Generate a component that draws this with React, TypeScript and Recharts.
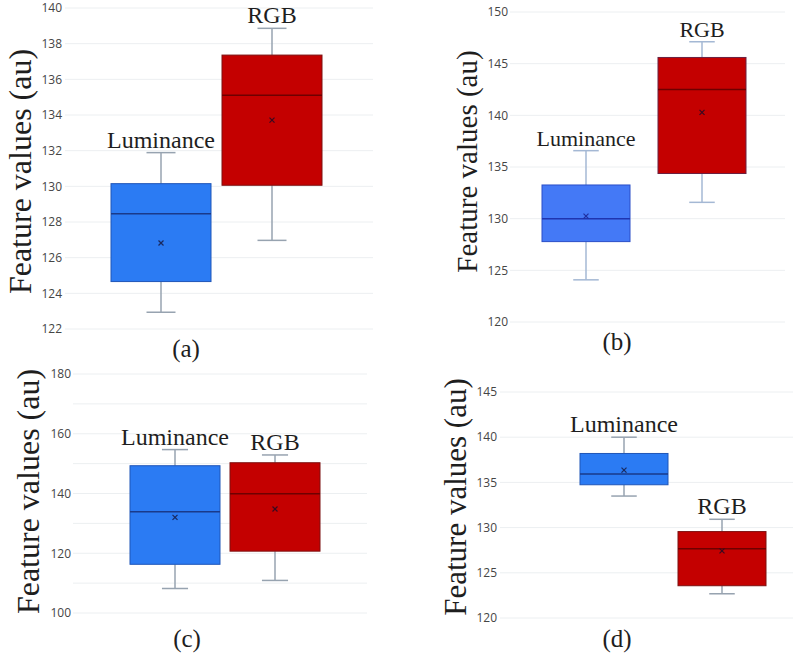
import { Bar, CartesianGrid, ComposedChart, XAxis, YAxis } from 'recharts'

const categories = ['Luminance', 'RGB']

// (a)
const aMin = [122.94, 126.97]
const aQ1 = [124.66, 130.06]
const aMedian = [128.46, 135.11]
const aQ3 = [130.15, 137.36]
const aMax = [131.89, 138.86]
const aMean = [126.82, 133.71]
const aTicks = [122, 124, 126, 128, 130, 132, 134, 136, 138, 140]

// (b)
const bMin = [124.08, 131.58]
const bQ1 = [127.78, 134.37]
const bMedian = [130.0, 142.5]
const bQ3 = [133.26, 145.6]
const bMax = [136.58, 147.12]
const bMean = [130.25, 140.28]
const bTicks = [120, 125, 130, 135, 140, 145, 150]

// (c)
const cMin = [108.2, 110.9]
const cQ1 = [116.3, 120.7]
const cMedian = [133.9, 139.9]
const cQ3 = [149.3, 150.3]
const cMax = [154.7, 152.9]
const cMean = [132.0, 134.8]
const cTicks = [100, 110, 120, 130, 140, 150, 160, 170, 180]

// (d)
const dMin = [133.49, 122.68]
const dQ1 = [134.74, 123.57]
const dMedian = [135.92, 127.65]
const dQ3 = [138.2, 129.56]
const dMax = [140.0, 130.92]
const dMean = [136.36, 127.43]
const dTicks = [120, 125, 130, 135, 140, 145]

const captions = ['(a)', '(b)', '(c)', '(d)']
const yTitle = 'Feature values (au)'

const serif = '"Liberation Serif", "Times New Roman", serif'
const sans = '"Open Sans", sans-serif'

const rows = (min: number[], q1: number[], med: number[], q3: number[], max: number[], mean: number[]) =>
  categories.map((name, i) => ({
    name,
    range: [q1[i], q3[i]],
    min: min[i],
    q1: q1[i],
    median: med[i],
    q3: q3[i],
    max: max[i],
    mean: mean[i],
  }))

const boxColors = [
  { fill: '#2b7bf3', stroke: '#1f56b8', median: '#1a3a8a', mean: '#1a2a60', whisker: '#97a3b0' },
  { fill: '#c40000', stroke: '#7d1010', median: '#6e0000', mean: '#3a0a20', whisker: '#97a3b0' },
]
const boxColorsB = [
  { fill: '#4479f6', stroke: '#2a4fc8', median: '#1f35b0', mean: '#2030a0', whisker: '#a4b8d4' },
  { fill: '#c40000', stroke: '#6a2040', median: '#6e0000', mean: '#3a0a20', whisker: '#a4b8d4' },
]

function makeShape(colors: typeof boxColors, labelSize: number) {
  return (props: any) => {
    const { x, y, width, height, payload, index } = props
    const top = Math.min(y, y + height)
    const h = Math.abs(height)
    const px = h / (payload.q3 - payload.q1)
    const yOf = (v: number) => top + (payload.q3 - v) * px
    const cx = x + width / 2
    const cap = width * 0.29
    const c = colors[index % colors.length]
    const my = yOf(payload.mean)
    return (
      <g>
        <line x1={cx} x2={cx} y1={yOf(payload.max)} y2={top} stroke={c.whisker} strokeWidth={1.5} />
        <line x1={cx} x2={cx} y1={top + h} y2={yOf(payload.min)} stroke={c.whisker} strokeWidth={1.5} />
        <line x1={cx - cap / 2} x2={cx + cap / 2} y1={yOf(payload.max)} y2={yOf(payload.max)} stroke={c.whisker} strokeWidth={1.5} />
        <line x1={cx - cap / 2} x2={cx + cap / 2} y1={yOf(payload.min)} y2={yOf(payload.min)} stroke={c.whisker} strokeWidth={1.5} />
        <rect x={x} y={top} width={width} height={h} fill={c.fill} stroke={c.stroke} strokeWidth={1} />
        <line x1={x} x2={x + width} y1={yOf(payload.median)} y2={yOf(payload.median)} stroke={c.median} strokeWidth={1.5} />
        <line x1={cx - 2.5} x2={cx + 2.5} y1={my - 2.5} y2={my + 2.5} stroke={c.mean} strokeWidth={1.2} />
        <line x1={cx - 2.5} x2={cx + 2.5} y1={my + 2.5} y2={my - 2.5} stroke={c.mean} strokeWidth={1.2} />
        <text x={cx} y={yOf(payload.max) - 5} textAnchor="middle" fontFamily={serif} fontSize={labelSize} fill="#1e1e1e">
          {payload.name}
        </text>
      </g>
    )
  }
}

interface PanelProps {
  data: ReturnType<typeof rows>
  left: number
  top: number
  width: number
  height: number
  margin: { top: number; right: number; bottom: number; left: number }
  domain: [number, number]
  ticks: number[]
  labelEvery?: number
  tickMargin: number
  padding: { left: number; right: number }
  barSize: number
  colors: typeof boxColors
  labelSize: number
}

function Panel(p: PanelProps) {
  return (
    <div style={{ position: 'absolute', left: p.left, top: p.top }}>
      <ComposedChart width={p.width} height={p.height} data={p.data} margin={p.margin}>
        <CartesianGrid vertical={false} stroke="#eceff1" strokeWidth={1} />
        <XAxis dataKey="name" hide padding={p.padding} />
        <YAxis
          width={40}
          domain={p.domain}
          ticks={p.ticks}
          interval={0}
          axisLine={false}
          tickLine={false}
          tickSize={0}
          tickMargin={p.tickMargin}
          tick={{ fontSize: 12, fill: '#454545', fontFamily: sans }}
          tickFormatter={(v: number) => (p.labelEvery && v % p.labelEvery !== 0 ? '' : String(v))}
        />
        <Bar
          dataKey="range"
          barSize={p.barSize}
          isAnimationActive={false}
          shape={makeShape(p.colors, p.labelSize)}
        />
      </ComposedChart>
    </div>
  )
}

export default function App() {
  return (
    <div style={{ position: 'absolute', left: 0, top: 0, width: 794, height: 653, background: '#fff' }}>
      <Panel
        data={rows(aMin, aQ1, aMedian, aQ3, aMax, aMean)}
        left={0} top={0} width={397} height={340}
        margin={{ top: 8, right: 24, bottom: 11, left: 25 }}
        domain={[122, 140]} ticks={aTicks} tickMargin={3}
        padding={{ left: 40, right: 46 }} barSize={100}
        colors={boxColors} labelSize={24}
      />
      <Panel
        data={rows(bMin, bQ1, bMedian, bQ3, bMax, bMean)}
        left={400} top={0} width={394} height={340}
        margin={{ top: 12, right: 9, bottom: 18, left: 70 }}
        domain={[120, 150]} ticks={bTicks} tickMargin={2}
        padding={{ left: 18, right: 25 }} barSize={88}
        colors={boxColorsB} labelSize={22}
      />
      <Panel
        data={rows(cMin, cQ1, cMedian, cQ3, cMax, cMean)}
        left={0} top={340} width={397} height={313}
        margin={{ top: 34, right: 30, bottom: 40, left: 33 }}
        domain={[100, 180]} ticks={cTicks} labelEvery={20} tickMargin={2}
        padding={{ left: 52, right: 42 }} barSize={90}
        colors={boxColors} labelSize={24}
      />
      <Panel
        data={rows(dMin, dQ1, dMedian, dQ3, dMax, dMean)}
        left={400} top={340} width={394} height={313}
        margin={{ top: 52, right: 1, bottom: 35, left: 60 }}
        domain={[120, 145]} ticks={dTicks} tickMargin={3}
        padding={{ left: 75, right: 22 }} barSize={88}
        colors={boxColors} labelSize={24}
      />
      <svg width={794} height={653} style={{ position: 'absolute', left: 0, top: 0, pointerEvents: 'none' }}>
        <g fontFamily={serif} fill="#1e1e1e">
          <text x={20} y={171.5} fontSize={32} textAnchor="middle" dominantBaseline="central" transform="rotate(-90 20 171.5)">{yTitle}</text>
          <text x={467} y={161.5} fontSize={29} textAnchor="middle" dominantBaseline="central" transform="rotate(-90 467 161.5)">{yTitle}</text>
          <text x={28} y={491.5} fontSize={32} textAnchor="middle" dominantBaseline="central" transform="rotate(-90 28 491.5)">{yTitle}</text>
          <text x={455} y={497} fontSize={31} textAnchor="middle" dominantBaseline="central" transform="rotate(-90 455 497)">{yTitle}</text>
          <text x={186} y={348} fontSize={25} textAnchor="middle" dominantBaseline="central">{captions[0]}</text>
          <text x={617} y={341} fontSize={25} textAnchor="middle" dominantBaseline="central">{captions[1]}</text>
          <text x={187} y={638} fontSize={25} textAnchor="middle" dominantBaseline="central">{captions[2]}</text>
          <text x={617} y={638} fontSize={25} textAnchor="middle" dominantBaseline="central">{captions[3]}</text>
        </g>
      </svg>
    </div>
  )
}
